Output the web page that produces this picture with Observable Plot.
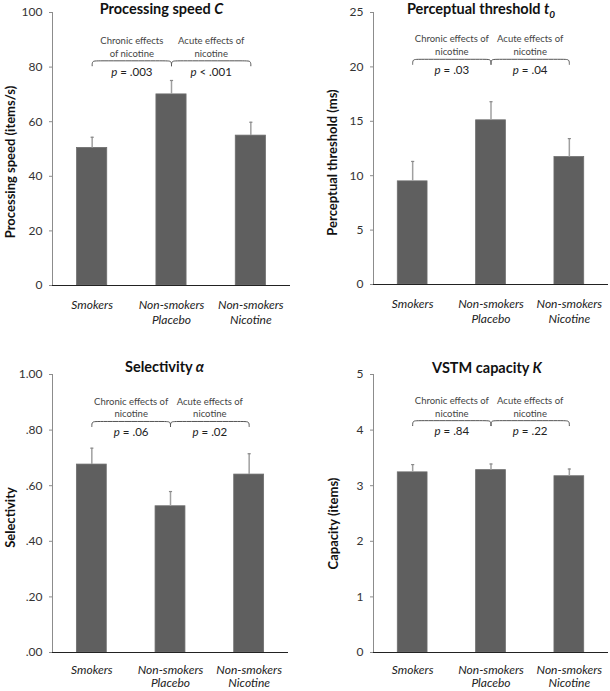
<!DOCTYPE html>
<html><head><meta charset="utf-8">
<script src="https://cdn.jsdelivr.net/npm/d3@7"></script>
<script src="https://cdn.jsdelivr.net/npm/@observablehq/plot@0.6"></script>
<style>
body{margin:0;background:#fff}
#grid{display:grid;grid-template-columns:305px 305px;width:610px}
#grid>div{line-height:0}
</style>
</head><body><div id="grid"></div>
<script>
// ---- data ----
const groups = ["Smokers", "Non-smokers\nPlacebo", "Non-smokers\nNicotine"];

const speedMean = [50.4, 70.0, 54.9];
const speedErr  = [3.9, 5.1, 4.9];
const thresholdMean = [9.48, 15.09, 11.71];
const thresholdErr  = [1.83, 1.71, 1.70];
const selectivityMean = [0.676, 0.526, 0.640];
const selectivityErr  = [0.059, 0.053, 0.075];
const capacityMean = [3.24, 3.28, 3.17];
const capacityErr  = [0.14, 0.11, 0.13];

const speedTicks = [0, 20, 40, 60, 80, 100];
const thresholdTicks = [0, 5, 10, 15, 20, 25];
const selectivityTicks = [0, 0.2, 0.4, 0.6, 0.8, 1.0];
const capacityTicks = [0, 1, 2, 3, 4, 5];

const pChronic = ["p = .003", "p = .03", "p = .06", "p = .84"];
const pAcute   = ["p < .001", "p = .04", "p = .02", "p = .22"];
const chronicLabels = ["Chronic effects\nof nicotine", "Chronic effects of\nnicotine", "Chronic effects of\nnicotine", "Chronic effects of\nnicotine"];
const acuteLabels = ["Acute effects of\nnicotine", "Acute effects of\nnicotine", "Acute effects of\nnicotine", "Acute effects of\nnicotine"];
const bracketLevel = [82.3, 20.7, 0.831, 4.17];

const titles = [
  {main: "Processing speed ", v: "C", sub: ""},
  {main: "Perceptual threshold ", v: "t", sub: "0"},
  {main: "Selectivity ", v: "α", sub: ""},
  {main: "VSTM capacity ", v: "K", sub: ""}
];
const yLabels = ["Processing speed (items/s)", "Perceptual threshold (ms)", "Selectivity", "Capacity (items)"];

// ---- layout ----
const FONT = "Lato, 'Open Sans', sans-serif";
const panels = [
  {means: speedMean, errs: speedErr, ticks: speedTicks, fmt: d3.format("d"),
   w: 305, h: 330, mL: 52, mR: 15, mT: 12, mB: 45, tdx: -10, tdy: -3, lx: 10, ldy: 13, tp: 13, lh: 1.25},
  {means: thresholdMean, errs: thresholdErr, ticks: thresholdTicks, fmt: d3.format("d"),
   w: 305, h: 330, mL: 68, mR: 2, mT: 12, mB: 46, tdx: -10, tdy: -3.5, lx: 27, ldy: 14, tp: 13, lh: 1.25},
  {means: selectivityMean, errs: selectivityErr, ticks: selectivityTicks,
   fmt: d => d === 1 ? "1.00" : d3.format(".2f")(d).replace(/^0/, ""),
   w: 305, h: 361, mL: 52, mR: 17, mT: 44, mB: 39, tdx: -6, tdy: -7, lx: 10, ldy: 4, tp: 12, lh: 1.12},
  {means: capacityMean, errs: capacityErr, ticks: capacityTicks, fmt: d3.format("d"),
   w: 305, h: 361, mL: 68, mR: 2, mT: 44, mB: 39, tdx: -4, tdy: -6, lx: 28, ldy: 10, tp: 12, lh: 1.12}
];

const grid = document.getElementById("grid");

panels.forEach((p, k) => {
  const rows = groups.map((g, i) => ({i, g, mean: p.means[i], top: p.means[i] + p.errs[i]}));
  const ymax = p.ticks[p.ticks.length - 1];
  const innerH = p.h - p.mT - p.mB;
  const drop = ymax * 5 / innerH;
  const yt = bracketLevel[k], yb = yt - drop;
  const r = 0.07;
  const br = [];
  [[0, 1], [1, 2]].forEach(([a, b], s) => {
    [[a, yb], [a, yt], [a + r, yt], [b - r, yt], [b, yt], [b, yb]].forEach(([x, y]) => br.push({s, x, y}));
  });
  const blabels = [
    {x: 0.5, lab: chronicLabels[k], pv: pChronic[k]},
    {x: 1.5, lab: acuteLabels[k], pv: pAcute[k]}
  ];
  const t = titles[k];
  const fullTitle = t.main + t.v + t.sub;

  const svg = Plot.plot({
    width: p.w, height: p.h,
    marginLeft: p.mL, marginRight: p.mR, marginTop: p.mT, marginBottom: p.mB,
    style: {fontFamily: FONT, fontSize: "12px", color: "#222", background: "#fff", overflow: "visible"},
    x: {domain: [-0.5, 2.5]},
    y: {domain: [0, ymax]},
    marks: [
      Plot.rectY(rows, {x1: d => d.i - 0.19, x2: d => d.i + 0.19, y1: 0, y2: "mean", fill: "#5f5f5f", stroke: "#6e6e6e", strokeWidth: 0.8}),
      Plot.ruleX(rows, {x: "i", y1: "mean", y2: "top", stroke: "#a0a0a0", strokeWidth: 1.5}),
      Plot.link(rows, {x1: d => d.i - 0.02, x2: d => d.i + 0.02, y1: "top", y2: "top", stroke: "#8a8a8a", strokeWidth: 1.2}),
      Plot.ruleX([-0.5], {stroke: "#8c8c8c"}),
      Plot.ruleY([0], {stroke: "#222"}),
      Plot.axisY({ticks: p.ticks, tickFormat: p.fmt, tickSize: 3, tickPadding: 7, stroke: "#8c8c8c", fill: "#333", fontSize: 12, label: null}),
      Plot.axisX({ticks: [0, 1, 2], tickFormat: i => groups[i], tickSize: 0, tickPadding: p.tp, fontSize: 12, fontStyle: "italic", lineHeight: p.lh, fill: "#222", label: null}),
      Plot.line(br, {x: "x", y: "y", z: "s", curve: "basis", stroke: "#555", strokeWidth: 1}),
      Plot.text(blabels, {x: "x", y: yt, text: "lab", dy: -14.5, lineAnchor: "middle", lineHeight: 1.35, fontSize: 9.5, fill: "#444"}),
      Plot.text(blabels, {x: "x", y: yt, text: "pv", dy: 11, lineAnchor: "middle", fontSize: 11.5, fill: "#222"}),
      Plot.text([fullTitle], {frameAnchor: "top", text: d => d, dx: p.tdx, dy: p.tdy, lineAnchor: "middle", fontSize: 14.5, fontWeight: "bold", fill: "#111"}),
      Plot.text([yLabels[k]], {frameAnchor: "left", text: d => d, rotate: -90, dx: p.lx - p.mL, dy: p.ldy, lineAnchor: "middle", textAnchor: "middle", fontSize: 13, fontWeight: "bold", fill: "#111"})
    ]
  });

  const sel = d3.select(svg);
  sel.selectAll("g[aria-label='x-axis tick label'] text").style("font-style", "italic");
  sel.selectAll("text").each(function () {
    const txt = this.textContent;
    const node = d3.select(this);
    if (txt === fullTitle && this.childElementCount === 0) {
      node.text(null);
      node.append("tspan").text(t.main);
      node.append("tspan").attr("font-style", "italic").text(t.v);
      if (t.sub) node.append("tspan").attr("font-style", "italic").attr("font-size", "10").attr("dy", "4").text(t.sub);
    } else if (/^p [=<]/.test(txt) && this.childElementCount === 0) {
      node.text(null);
      node.append("tspan").attr("font-style", "italic").text("p");
      node.append("tspan").text(txt.slice(1));
    }
  });

  const div = document.createElement("div");
  div.appendChild(svg);
  grid.appendChild(div);
});
</script>
</body></html>
